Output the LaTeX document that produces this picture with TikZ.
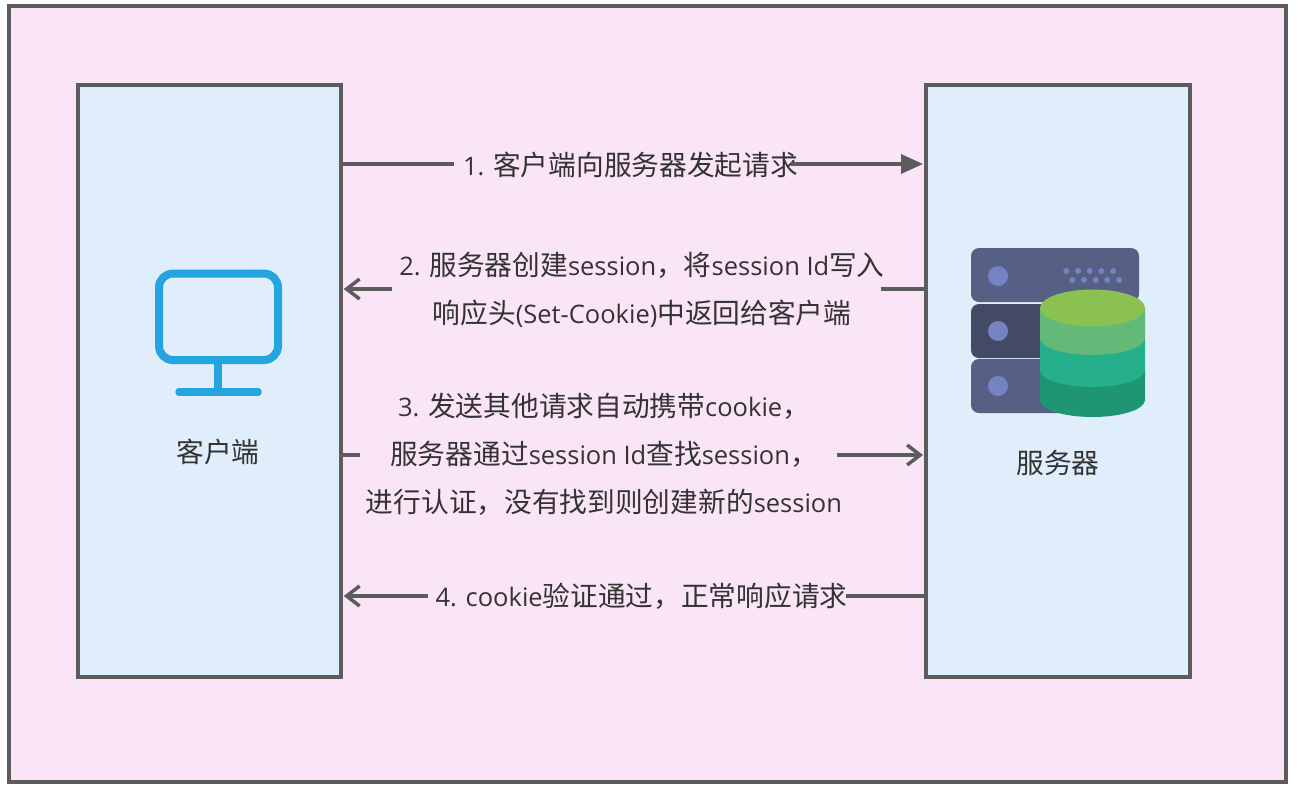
\documentclass[tikz,border=0pt]{standalone}
\usepackage{fontspec}
\setmainfont[Scale=0.92]{Open Sans}
\newfontfamily\cjk{Noto Sans CJK SC}
\newcommand{\zh}[1]{{\cjk #1}}
\usetikzlibrary{arrows.meta}
\definecolor{edgegray}{HTML}{5C5C5C}
\definecolor{inkgray}{HTML}{333333}
\definecolor{pagepink}{HTML}{FAE5F7}
\definecolor{boxblue}{HTML}{DFEEFA}
\definecolor{screenblue}{HTML}{25A5E0}
\definecolor{slablight}{HTML}{565F84}
\definecolor{slabdark}{HTML}{424A64}
\definecolor{ledblue}{HTML}{7583C5}
\tikzstyle{line} = [draw=edgegray, line width=3.5pt]
\tikzstyle{solidline} = [line, -{Triangle[length=22pt,width=19pt]}]
\tikzstyle{openline} = [line, -{Straight Barb[length=13pt,width=20pt,line width=3.5pt]}]
\tikzstyle{block} = [rectangle, draw=edgegray, fill=boxblue, line width=4pt,
  minimum width=263.5pt, minimum height=592pt]
\tikzstyle{label} = [text=inkgray, inner sep=0pt, align=center,
  font=\fontsize{27.7}{48}\selectfont]
\tikzstyle{slab} = [fill=slablight, rounded corners=8pt]
\tikzstyle{led} = [fill=ledblue]

\begin{document}
\begin{tikzpicture}[x=1pt, y=-1pt]
  \useasboundingbox (0,0) rectangle (1298,788);
  \node [rectangle, draw=edgegray, fill=pagepink, line width=4pt,
    minimum width=1277pt, minimum height=776pt] (page) at (647.5,394) {};
  \node [block] (client) at (209.5,381) {};
  \node [block] (server) at (1057.75,381) {};

  \node [label] (clientname) at (218,452) {\zh{客户端}};
  \node [label] (servername) at (1058,463) {\zh{服务器}};

  \node [label] (step1) at (630.5,165) {1. \zh{客户端向服务器发起请求}};
  \node [label] (step2) at (642,289.5) {2. \zh{服务器创建}session\zh{，将}session Id\zh{写入}\\
    \zh{响应头}(Set-Cookie)\zh{中返回给客户端}};
  \node [label] (step3) at (604,454) {3. \zh{发送其他请求自动携带}cookie\zh{，}\\
    \zh{服务器通过}session Id\zh{查找}session\zh{，}\\
    \zh{进行认证，没有找到则创建新的}session};
  \node [label] (step4) at (641.5,596) {4. cookie\zh{验证通过，正常响应请求}};

  % heights of the four connectors
  \coordinate (row1) at (0,164);
  \coordinate (row2) at (0,289);
  \coordinate (row3) at (0,455);
  \coordinate (row4) at (0,596);

  \path [line] (client.east |- row1) -- ([xshift=-9pt]step1.west |- row1);
  \path [solidline] ([xshift=-7pt]step1.east |- row1) -- ([xshift=-1pt]server.west |- row1);
  \path [line] (server.west |- row2) -- ([xshift=-4pt]step2.east |- row2);
  \path [openline] ([xshift=-7pt]step2.west |- row2) -- ([xshift=0.5pt]client.east |- row2);
  \path [line] (client.east |- row3) -- ([xshift=-6pt]step3.west |- row3);
  \path [openline] ([xshift=-5pt]step3.east |- row3) -- ([xshift=-1pt]server.west |- row3);
  \path [line] (server.west |- row4) -- ([xshift=-2pt]step4.east |- row4);
  \path [openline] ([xshift=-7pt]step4.west |- row4) -- ([xshift=0.5pt]client.east |- row4);

  % monitor icon
  \draw [screenblue, line width=8pt, rounded corners=14pt] (159,273.5) rectangle (278,360);
  \draw [screenblue, line width=8pt] (218,360) -- (218,392);
  \draw [screenblue, line width=7.5pt, line cap=round] (179,392) -- (258,392);

  % server icon
  \path [slab] (971,248) rectangle (1139,302);
  \path [slab, fill=slabdark] (971,304) rectangle (1139,358);
  \path [slab] (971,359) rectangle (1110,413);
  \foreach \ledy in {276,331,386}
    \path [led] (998,\ledy) circle (10pt);
  \foreach \dotx in {1066.3,1078,1089.7,1101.3,1113}
    \path [led] (\dotx,271) circle (3pt);
  \foreach \dotx in {1072.3,1084,1095.7,1107.3,1119}
    \path [led] (\dotx,280) circle (3pt);

  % database, lowest layer first
  \foreach \ytop/\ybot/\layer in {370/400/1E9674,338/370/25B08B,308/338/63B977} {
    \definecolor{layercolor}{HTML}{\layer}
    \path [fill=layercolor] (1040,\ytop) -- (1040,\ybot)
      arc [start angle=180, end angle=360, x radius=52.5pt, y radius=17pt]
      -- (1145,\ytop) -- cycle;
  }
  \path [fill={rgb,255:red,139;green,193;blue,81}] (1092.5,308) ellipse [x radius=52.5pt, y radius=18.5pt];
\end{tikzpicture}
\end{document}
